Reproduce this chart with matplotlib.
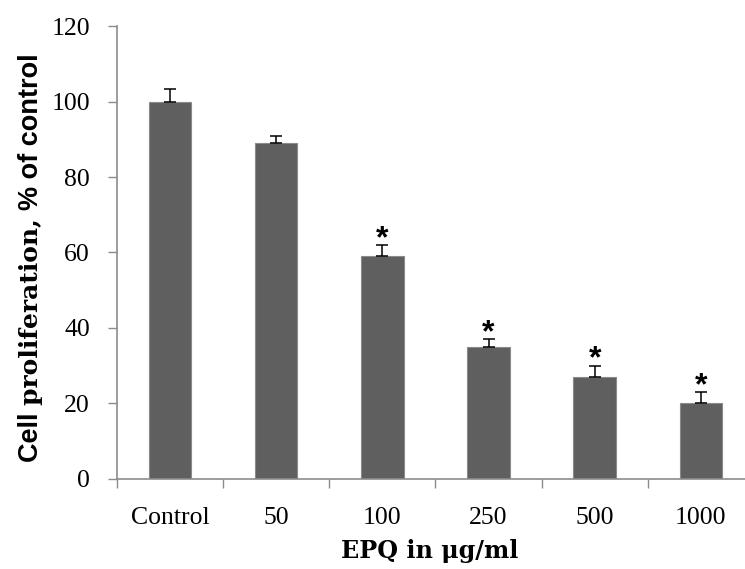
import numpy as np
import matplotlib
matplotlib.use("Agg")
import matplotlib.pyplot as plt

categorias = ["Control", "50", "100", "250", "500", "1000"]
valores = [100, 89, 59, 35, 27, 20]
erros = [3.4, 2, 3, 2, 3, 3]
signif = [False, False, True, True, True, True]
yticks = [0, 20, 40, 60, 80, 100, 120]

cor_barra = "#5f5f5f"
cor_eixo = "#8c8c8c"

fig = plt.figure(figsize=(7.45, 5.69), dpi=100)
ax = fig.add_axes([0.157, 0.1587, 0.855, 0.7951])

x = np.arange(len(categorias))
ax.bar(x, valores, width=0.4, color=cor_barra, edgecolor="#8a8a8a", linewidth=0.8, zorder=2)
ax.errorbar(x, valores, yerr=[np.zeros(len(erros)), erros], fmt="none",
            ecolor="black", elinewidth=1.1, capsize=4.3, capthick=1.1, zorder=3)

for i in range(len(categorias)):
    if signif[i]:
        ax.annotate("*", (x[i], valores[i] + erros[i]), xytext=(0, -1.5),
                    textcoords="offset points", ha="center", va="baseline",
                    fontsize=23, fontweight="bold", family="Liberation Sans")

ax.set_xlim(-0.5, len(categorias) - 0.5)
ax.set_ylim(0, 120)
ax.set_yticks(yticks)
ax.set_yticklabels([str(v) for v in yticks], family="Liberation Serif", fontsize=18.5)
ax.set_xticks(x)
ax.set_xticklabels(categorias, family="Liberation Serif", fontsize=18.5)
ax.set_xticks(np.arange(len(categorias)) - 0.5, minor=True)
ax.tick_params(axis="x", which="major", length=0, pad=20.5)
ax.tick_params(axis="x", which="minor", length=6.5, width=1, color=cor_eixo, direction="out")
ax.tick_params(axis="y", length=6.5, width=1, color=cor_eixo, pad=13)

for lado in ["top", "right"]:
    ax.spines[lado].set_visible(False)
for lado in ["left", "bottom"]:
    ax.spines[lado].set_color(cor_eixo)
    ax.spines[lado].set_linewidth(1.2)

# rotulo x
fig.text(430 / 745, 11 / 569, "EPQ in \u03bcg/ml", ha="center", va="baseline",
         family="DejaVu Serif", fontweight="bold", fontsize=17.2)

# rotulo y com fontes misturadas
pedacos = [("Cell ", "Liberation Sans", 19.5), ("proliferation, ", "DejaVu Serif", 18),
           ("% of control", "Liberation Sans", 19.5)]
fig.canvas.draw()
rend = fig.canvas.get_renderer()
y0 = 107 / 569
for txt, fam, tam in pedacos:
    t = fig.text(31 / 745, y0, txt, rotation=90, ha="center", va="bottom",
                 family=fam, fontweight="bold", fontsize=tam)
    bb = t.get_window_extent(renderer=rend)
    y0 = bb.y1 / fig.bbox.height

fig.savefig("out.png", dpi=100)
